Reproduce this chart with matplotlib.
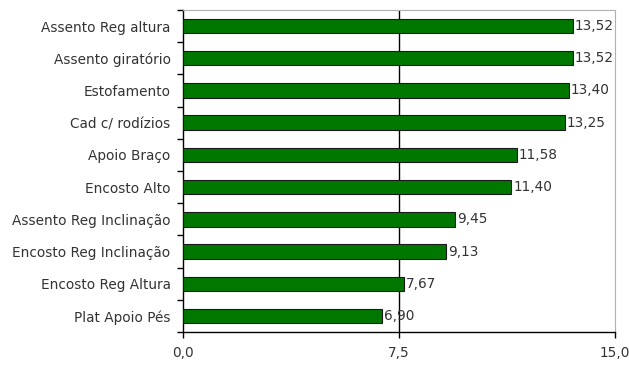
import numpy as np
import matplotlib.pyplot as plt

plt.rcParams['font.family'] = ['DejaVu Sans']

itens = ["Assento Reg altura",
         "Assento giratório",
         "Estofamento",
         "Cad c/ rodízios",
         "Apoio Braço",
         "Encosto Alto",
         "Assento Reg Inclinação",
         "Encosto Reg Inclinação",
         "Encosto Reg Altura",
         "Plat Apoio Pés"]

valores = [13.52, 13.52, 13.40, 13.25, 11.58, 11.40, 9.45, 9.13, 7.67, 6.90]

x_ticks = [0.0, 7.5, 15.0]

fs = 9.8
fig = plt.figure(figsize=(6.29, 3.67), dpi=100)
ax = fig.add_axes([0.291, 0.095, 0.687, 0.878])

pos = np.arange(len(itens))[::-1]
ax.barh(pos, valores, height=0.45, color="#007800", edgecolor="#1a1a1a", linewidth=0.8, zorder=3)

# rótulos de valor com vírgula decimal
for p, v in zip(pos, valores):
    ax.text(v + 0.06, p, f"{v:.2f}".replace(".", ","), va="center", ha="left",
            fontsize=fs, color="#333333", zorder=4)

ax.set_xlim(0, 15)
ax.set_ylim(-0.5, len(itens) - 0.5)
ax.axvline(7.5, color="black", linewidth=1.0, zorder=2)

ax.set_xticks(x_ticks)
ax.set_xticklabels([f"{t:.1f}".replace(".", ",") for t in x_ticks], fontsize=fs, color="#333333")
ax.tick_params(axis="x", length=4, width=1, pad=6)

ax.set_yticks(pos)
ax.set_yticklabels(itens, fontsize=fs, color="#333333")
ax.set_yticks(np.arange(-0.5, len(itens), 1.0), minor=True)
ax.tick_params(axis="y", which="major", length=0, pad=9)
ax.tick_params(axis="y", which="minor", length=4, width=1)

for s in ["top", "right"]:
    ax.spines[s].set_color("#b0b0b0")
for s in ["left", "bottom"]:
    ax.spines[s].set_color("black")
    ax.spines[s].set_linewidth(1.0)

fig.savefig("out.png", dpi=100)
